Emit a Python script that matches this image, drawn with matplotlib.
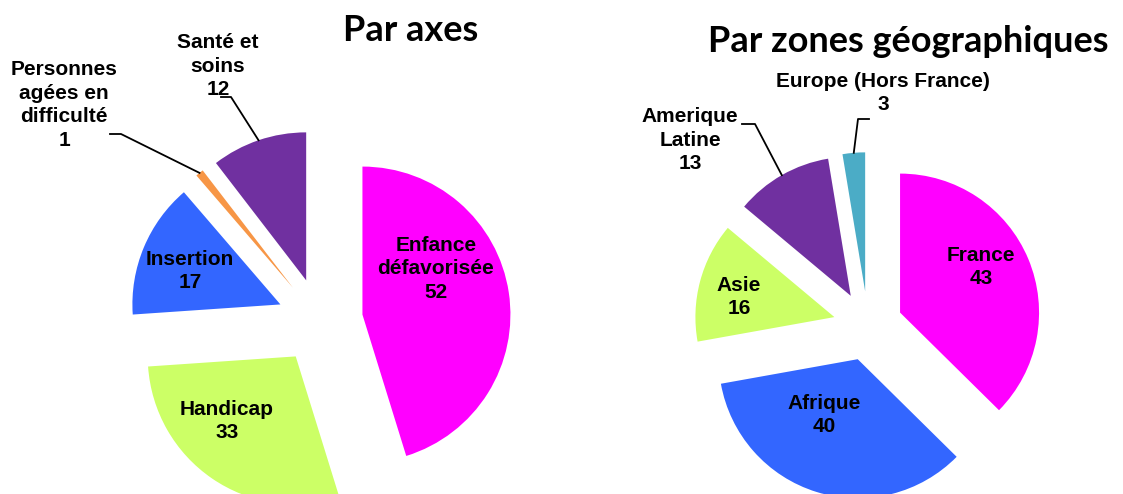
import matplotlib
matplotlib.use('Agg')
import matplotlib.pyplot as plt
from matplotlib.lines import Line2D
import numpy as np

W, H = 1123, 494

# Par axes
axes_labels = ['Enfance\ndéfavorisée', 'Handicap', 'Insertion', 'Personnes\nagées en\ndifficulté', 'Santé et\nsoins']
axes_values = [52, 33, 17, 1, 12]
axes_colors = ['#FF00FF', '#CCFF66', '#3366FF', '#F79646', '#7030A0']

# Par zones géographiques
zones_labels = ['France', 'Afrique', 'Asie', 'Amerique\nLatine', 'Europe (Hors France)']
zones_values = [43, 40, 16, 13, 3]
zones_colors = ['#FF00FF', '#3366FF', '#CCFF66', '#7030A0', '#4BACC6']

LABEL_FONT = ['Liberation Sans', 'DejaVu Sans']
TITLE_FONT = ['Lato', 'DejaVu Sans']

fig = plt.figure(figsize=(W / 100, H / 100), dpi=100)


def px(x, y):
    # pixels (origine en haut à gauche) -> fraction de la figure
    return x / W, 1 - y / H


def make_pie(cx, cy, r, values, colors, explode):
    L = 2.5
    ax = fig.add_axes([(cx - L * r) / W, (H - cy - L * r) / H,
                       2 * L * r / W, 2 * L * r / H])
    wedges, _ = ax.pie(values, colors=colors, startangle=90, counterclock=False,
                       explode=[explode] * len(values),
                       wedgeprops=dict(linewidth=0))
    ax.set_aspect('auto')
    ax.set_xlim(-L, L)
    ax.set_ylim(-L, L)
    ax.axis('off')
    return ax, wedges


def arc_point(ax, w):
    # milieu de l'arc extérieur de la part, en fraction de figure
    t = np.deg2rad((w.theta1 + w.theta2) / 2)
    p = (w.center[0] + w.r * np.cos(t), w.center[1] + w.r * np.sin(t))
    d = ax.transData.transform(p)
    return d[0] / W, d[1] / H


def put_labels(ax, wedges, labels, values, positions, leaders):
    for i, (lab, v) in enumerate(zip(labels, values)):
        x, y = positions[i]
        fig.text(*px(x, y), lab + '\n' + str(v), ha='center', va='center',
                 ma='center', fontsize=15, fontweight='bold', family=LABEL_FONT,
                 linespacing=1.3)
        if i in leaders:
            (x0, y0), (x1, y1) = leaders[i]
            ex, ey = arc_point(ax, wedges[i])
            a, b = px(x0, y0)
            c, d = px(x1, y1)
            fig.add_artist(Line2D([a, c, ex], [b, d, ey], color='black', lw=1.3,
                                  transform=fig.transFigure))


ax1, w1 = make_pie(320, 321, 148, axes_values, axes_colors, 0.29)
put_labels(ax1, w1, axes_labels, axes_values,
           [(436, 269), (227, 421), (190, 271), (64, 105), (218, 66)],
           {3: ((110, 134), (121, 134)), 4: ((221, 97), (231, 97))})

ax2, w2 = make_pie(868, 326, 139, zones_values, zones_colors, 0.25)
put_labels(ax2, w2, zones_labels, zones_values,
           [(981, 267), (824, 415), (739, 297), (690, 140), (883, 93)],
           {3: ((742, 124), (755, 124)), 4: ((869, 119), (858, 119))})

fig.text(*px(411, 41), 'Par axes', ha='center', va='baseline', fontsize=26,
         fontweight='bold', family=TITLE_FONT)
fig.text(*px(908, 52), 'Par zones géographiques', ha='center', va='baseline',
         fontsize=26, fontweight='bold', family=TITLE_FONT)

fig.savefig('out.png', dpi=100)
